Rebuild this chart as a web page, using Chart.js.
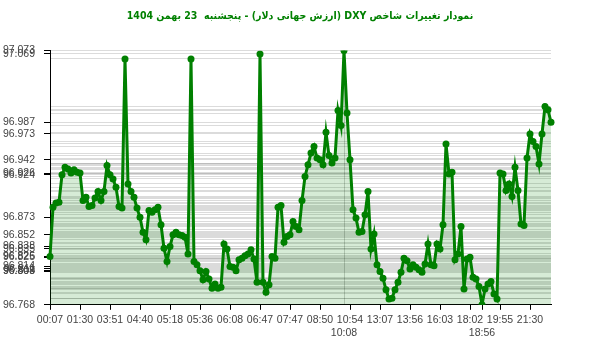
<!DOCTYPE html>
<html>
<head>
<meta charset="utf-8">
<title>DXY</title>
<script src="https://cdn.jsdelivr.net/npm/chart.js@4"></script>
<style>
    html, body { margin: 0; padding: 0; background: #fff; }
    #wrap { width: 600px; height: 352px; }
</style>
</head>
<body>
<div id="wrap"><canvas id="dxyChart"></canvas></div>
<script>
// DXY index values, one per reading (168 readings)
const dxyValues = [
    96.826, 96.885, 96.890, 96.891, 96.924, 96.933, 96.931, 96.926, 96.930, 96.927,
    96.926, 96.893, 96.897, 96.886, 96.887, 96.896, 96.904, 96.893, 96.904, 96.935,
    96.924, 96.919, 96.909, 96.886, 96.884, 97.063, 96.913, 96.904, 96.897, 96.884,
    96.873, 96.855, 96.846, 96.881, 96.879, 96.882, 96.885, 96.864, 96.836, 96.820,
    96.838, 96.852, 96.855, 96.852, 96.851, 96.849, 96.829, 97.063, 96.820, 96.816,
    96.809, 96.798, 96.808, 96.799, 96.788, 96.793, 96.788, 96.789, 96.841, 96.835,
    96.814, 96.813, 96.809, 96.822, 96.824, 96.827, 96.829, 96.834, 96.823, 96.795,
    97.069, 96.795, 96.783, 96.792, 96.826, 96.824, 96.885, 96.887, 96.843, 96.850,
    96.852, 96.868, 96.862, 96.858, 96.893, 96.922, 96.936, 96.950, 96.958, 96.944,
    96.942, 96.936, 96.975, 96.947, 96.938, 96.944, 97.001, 96.983, 97.073, 96.998,
    96.942, 96.882, 96.872, 96.855, 96.856, 96.876, 96.904, 96.835, 96.853, 96.816,
    96.808, 96.800, 96.786, 96.775, 96.776, 96.786, 96.795, 96.807, 96.824, 96.821,
    96.811, 96.816, 96.813, 96.810, 96.807, 96.817, 96.841, 96.816, 96.815, 96.841,
    96.835, 96.864, 96.961, 96.925, 96.927, 96.822, 96.829, 96.862, 96.787, 96.823,
    96.825, 96.801, 96.799, 96.790, 96.768, 96.787, 96.793, 96.796, 96.781, 96.775,
    96.926, 96.925, 96.905, 96.913, 96.898, 96.933, 96.905, 96.865, 96.863, 96.944,
    96.973, 96.964, 96.958, 96.937, 96.973, 97.006, 97.002, 96.987
];

// time labels shown under every 10th reading
const xLabelTimes = ['00:07', '01:30', '03:51', '04:40', '05:18', '05:36', '06:08', '06:47', '07:47',
    '08:50', '10:54', '13:07', '13:56', '16:03', '18:02', '19:55', '21:30'];
const xLabelStep = 10;

// max / min readings get their own label on a second row
const extraLabelIndex = [98, 144];
const extraLabelTimes = ['10:08', '18:56'];

// y values that get a printed label
const yLabelValues = [97.073, 97.069, 96.987, 96.973, 96.942, 96.926, 96.924, 96.873, 96.852,
    96.838, 96.835, 96.826, 96.825, 96.814, 96.811, 96.809, 96.808, 96.768];

const titleText = 'نمودار تغییرات شاخص DXY (ارزش جهانی دلار) - پنجشنبه  23 بهمن 1404';

const labels = dxyValues.map((v, i) => {
    if (i % xLabelStep === 0) return xLabelTimes[i / xLabelStep];
    const k = extraLabelIndex.indexOf(i);
    return k >= 0 ? extraLabelTimes[k] : '';
});

const isYLabel = (v) => yLabelValues.some(l => Math.abs(l - v) < 1e-9);

Chart.defaults.font.family = 'Arial, "Liberation Sans", sans-serif';
Chart.defaults.font.size = 10.5;
Chart.defaults.color = '#444';

new Chart(document.getElementById('dxyChart').getContext('2d'), {
    type: 'line',
    data: {
        labels: labels,
        datasets: [{
            data: dxyValues,
            borderColor: '#008000',
            borderWidth: 3,
            backgroundColor: 'rgba(0, 128, 0, 0.16)',
            fill: 'start',
            tension: 0,
            pointRadius: 3.5,
            pointBackgroundColor: '#008000',
            pointBorderWidth: 0
        }]
    },
    options: {
        responsive: true,
        maintainAspectRatio: false,
        animation: false,
        layout: { padding: { left: 0, right: 0, top: 0, bottom: 9 } },
        plugins: {
            legend: { display: false },
            tooltip: { enabled: false },
            title: {
                display: true,
                text: '\u202B' + titleText + '\u202C',
                color: '#008000',
                font: { family: '"DejaVu Sans Condensed", Tahoma, "DejaVu Sans", sans-serif', size: 10.5, weight: 'bold' },
                padding: { top: 10, bottom: 28 }
            }
        },
        scales: {
            x: {
                type: 'category',
                offset: false,
                border: { display: true, color: '#000', width: 1 },
                grid: {
                    drawOnChartArea: true,
                    color: (ctx) => ctx.index === extraLabelIndex[0] ? '#d0d0d0' : 'transparent',
                    tickColor: (ctx) => (ctx.index % xLabelStep === 0 || ctx.index === extraLabelIndex[1]) ? '#000' : 'transparent',
                    tickLength: 5
                },
                ticks: {
                    autoSkip: false,
                    maxRotation: 0,
                    minRotation: 0,
                    padding: 4,
                    callback: function (value, index) {
                        if (index % xLabelStep === 0) return this.getLabelForValue(value);
                        if (extraLabelIndex.includes(index)) return ['', this.getLabelForValue(value)];
                        return '';
                    }
                }
            },
            y: {
                type: 'linear',
                min: Math.min(...dxyValues),
                max: Math.max(...dxyValues),
                border: { display: true, color: '#000', width: 1 },
                afterBuildTicks: (scale) => {
                    const vals = [...new Set(dxyValues)].sort((a, b) => a - b);
                    scale.ticks = vals.map(v => ({ value: v }));
                },
                afterFit: (scale) => { scale.width = 50; },
                grid: {
                    color: 'rgba(0, 0, 0, 0.14)',
                    tickColor: (ctx) => (ctx.tick && isYLabel(ctx.tick.value)) ? '#000' : 'transparent',
                    tickLength: 6
                },
                ticks: {
                    autoSkip: false,
                    padding: 9,
                    callback: (value) => isYLabel(value) ? value.toFixed(3) : ''
                }
            },
            // empty strip on the right so the plot stops where the reference does
            yRight: {
                type: 'linear',
                position: 'right',
                display: true,
                border: { display: false },
                grid: { display: false },
                ticks: { display: false },
                afterFit: (scale) => { scale.width = 49; }
            }
        }
    }
});
</script>
</body>
</html>
